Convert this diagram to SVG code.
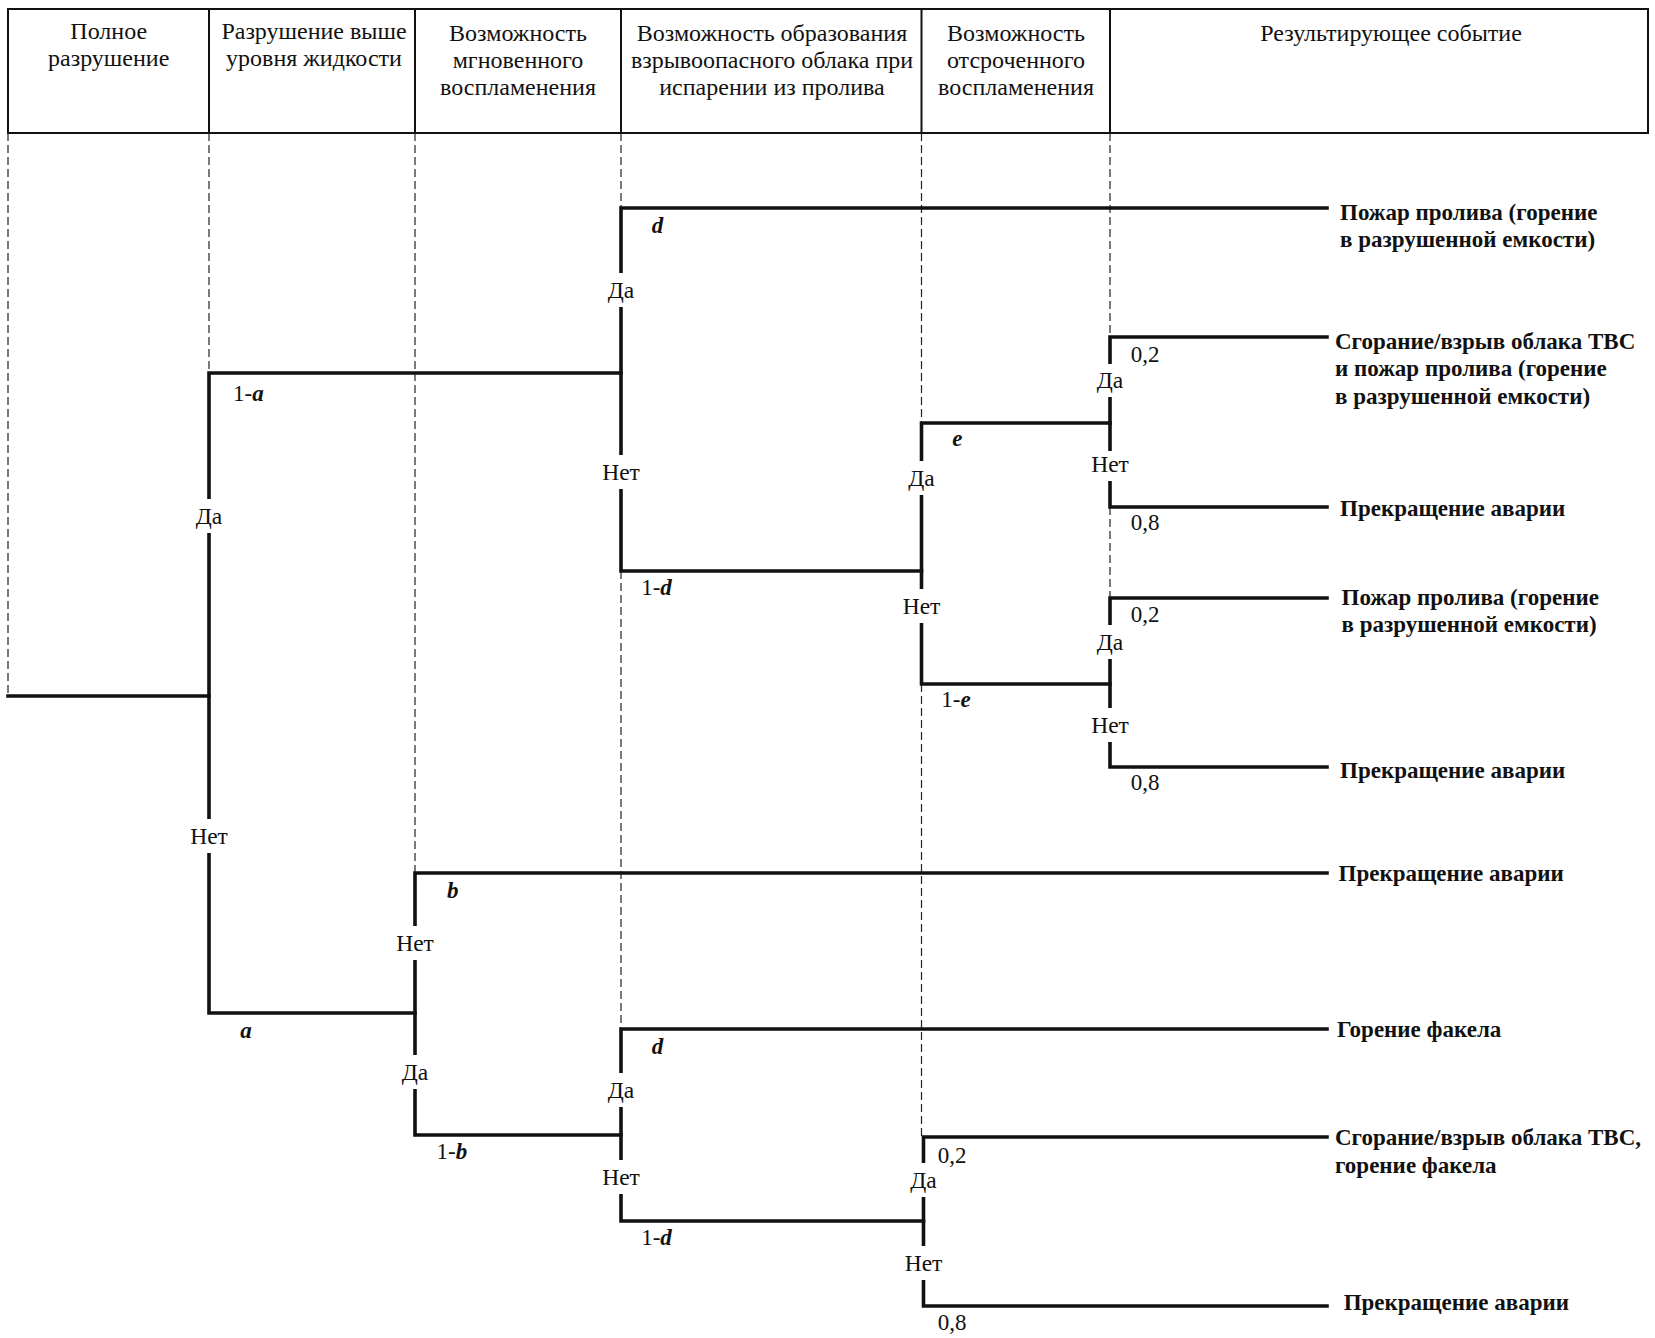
<svg xmlns="http://www.w3.org/2000/svg" width="1655" height="1338" viewBox="0 0 1655 1338">
<style>
text{font-family:"Liberation Serif","Times New Roman",serif;fill:#111}
.h{font-size:24px;text-anchor:middle}
.lab{font-size:23.5px;text-anchor:middle}
.p{font-size:23px}
.it{font-style:italic;font-weight:bold}
.out{font-size:23px;font-weight:bold}
.tree{fill:none;stroke:#111;stroke-width:3.6;stroke-linejoin:miter;stroke-linecap:square}
.dash{fill:none;stroke:#222;stroke-width:1.2;stroke-dasharray:8 4}
.frame{fill:none;stroke:#111;stroke-width:2}
.gap{fill:#fff}
</style>
<rect width="1655" height="1338" fill="#fff"/>

<g id="header">
<rect class="frame" x="8" y="9" width="1640" height="124"/>
<line class="frame" x1="209" y1="9" x2="209" y2="133"/>
<line class="frame" x1="415" y1="9" x2="415" y2="133"/>
<line class="frame" x1="621" y1="9" x2="621" y2="133"/>
<line class="frame" x1="921.5" y1="9" x2="921.5" y2="133"/>
<line class="frame" x1="1110" y1="9" x2="1110" y2="133"/>
<g id="col1"><text class="h" x="108.7" y="39">Полное</text><text class="h" x="108.7" y="66">разрушение</text></g>
<g id="col2"><text class="h" x="314" y="39">Разрушение выше</text><text class="h" x="314" y="66">уровня жидкости</text></g>
<g id="col3"><text class="h" x="518" y="41">Возможность</text><text class="h" x="518" y="68">мгновенного</text><text class="h" x="518" y="95">воспламенения</text></g>
<g id="col4"><text class="h" x="772" y="41">Возможность образования</text><text class="h" x="772" y="68">взрывоопасного облака при</text><text class="h" x="772" y="95">испарении из пролива</text></g>
<g id="col5"><text class="h" x="1016" y="41">Возможность</text><text class="h" x="1016" y="68">отсроченного</text><text class="h" x="1016" y="95">воспламенения</text></g>
<g id="col6"><text class="h" x="1391" y="41">Результирующее событие</text></g>
</g>

<g id="guides">
<line class="dash" x1="8" y1="133" x2="8" y2="696"/>
<line class="dash" x1="209" y1="133" x2="209" y2="373"/>
<line class="dash" x1="415" y1="133" x2="415" y2="873"/>
<line class="dash" x1="621" y1="133" x2="621" y2="208"/>
<line class="dash" x1="621" y1="571" x2="621" y2="1029"/>
<line class="dash" x1="921.5" y1="133" x2="921.5" y2="423"/>
<line class="dash" x1="921.5" y1="684" x2="921.5" y2="1137"/>
<line class="dash" x1="1110" y1="133" x2="1110" y2="337"/>
<line class="dash" x1="1110" y1="507" x2="1110" y2="598"/>
</g>

<g id="connectors">
<path class="tree" d="M8 696 H209"/>
<path class="tree" d="M621 373 H209 V1013 H415"/>
<path class="tree" d="M1327 208 H621 V571 H921.5"/>
<path class="tree" d="M1110 423 H921.5 V684 H1110"/>
<path class="tree" d="M1327 337 H1110 V507 H1327"/>
<path class="tree" d="M1327 598 H1110 V767 H1327"/>
<path class="tree" d="M1327 873 H415 V1135 H621"/>
<path class="tree" d="M1327 1029 H621 V1221 H923.5"/>
<path class="tree" d="M1327 1137 H923.5 V1306 H1327"/>
</g>

<g id="branch-labels">
<g id="n-a"><rect class="gap" x="190" y="499" width="38" height="34"/><text class="lab" x="209" y="524">Да</text>
<rect class="gap" x="185" y="819" width="48" height="34"/><text class="lab" x="209" y="844">Нет</text></g>
<g id="n-d1"><rect class="gap" x="602" y="273" width="38" height="34"/><text class="lab" x="621" y="298">Да</text>
<rect class="gap" x="597" y="455" width="48" height="34"/><text class="lab" x="621" y="480">Нет</text></g>
<g id="n-e"><rect class="gap" x="902" y="461" width="38" height="34"/><text class="lab" x="921.5" y="486">Да</text>
<rect class="gap" x="897" y="589" width="48" height="34"/><text class="lab" x="921.5" y="614">Нет</text></g>
<g id="n-f1"><rect class="gap" x="1091" y="364" width="38" height="33"/><text class="lab" x="1110" y="388">Да</text>
<rect class="gap" x="1086" y="451" width="48" height="30"/><text class="lab" x="1110" y="472">Нет</text></g>
<g id="n-f2"><rect class="gap" x="1091" y="625" width="38" height="34"/><text class="lab" x="1110" y="650">Да</text>
<rect class="gap" x="1086" y="708" width="48" height="34"/><text class="lab" x="1110" y="733">Нет</text></g>
<g id="n-b"><rect class="gap" x="391" y="926" width="48" height="34"/><text class="lab" x="415" y="951">Нет</text>
<rect class="gap" x="396" y="1055" width="38" height="34"/><text class="lab" x="415" y="1080">Да</text></g>
<g id="n-d2"><rect class="gap" x="602" y="1073" width="38" height="34"/><text class="lab" x="621" y="1098">Да</text>
<rect class="gap" x="597" y="1160" width="48" height="34"/><text class="lab" x="621" y="1185">Нет</text></g>
<g id="n-f3"><rect class="gap" x="904" y="1163" width="38" height="34"/><text class="lab" x="923.5" y="1188">Да</text>
<rect class="gap" x="899" y="1246" width="48" height="34"/><text class="lab" x="923.5" y="1271">Нет</text></g>
</g>

<g id="probabilities">
<text class="p" x="233" y="401">1-<tspan class="it">a</tspan></text>
<text class="p it" x="246" y="1038" text-anchor="middle">a</text>
<text class="p it" x="657.6" y="233" text-anchor="middle">d</text>
<text class="p" x="656.5" y="595" text-anchor="middle">1-<tspan class="it">d</tspan></text>
<text class="p it" x="957.4" y="446" text-anchor="middle">e</text>
<text class="p" x="956" y="707" text-anchor="middle">1-<tspan class="it">e</tspan></text>
<text class="p" x="1145" y="362" text-anchor="middle">0,2</text>
<text class="p" x="1145" y="530" text-anchor="middle">0,8</text>
<text class="p" x="1145" y="622" text-anchor="middle">0,2</text>
<text class="p" x="1145" y="790" text-anchor="middle">0,8</text>
<text class="p it" x="452.8" y="898" text-anchor="middle">b</text>
<text class="p" x="451.8" y="1159" text-anchor="middle">1-<tspan class="it">b</tspan></text>
<text class="p it" x="657.6" y="1054" text-anchor="middle">d</text>
<text class="p" x="656.5" y="1245" text-anchor="middle">1-<tspan class="it">d</tspan></text>
<text class="p" x="952" y="1163" text-anchor="middle">0,2</text>
<text class="p" x="952" y="1330" text-anchor="middle">0,8</text>
</g>

<g id="outcomes">
<g id="o1"><text class="out" x="1340" y="219.5">Пожар пролива (горение</text><text class="out" x="1340" y="247">в разрушенной емкости)</text></g>
<g id="o2"><text class="out" x="1335" y="348.5">Сгорание/взрыв облака ТВС</text><text class="out" x="1335" y="376">и пожар пролива (горение</text><text class="out" x="1335" y="403.5">в разрушенной емкости)</text></g>
<g id="o3"><text class="out" x="1340" y="516">Прекращение аварии</text></g>
<g id="o4"><text class="out" x="1341.5" y="605">Пожар пролива (горение</text><text class="out" x="1341.5" y="632">в разрушенной емкости)</text></g>
<g id="o5"><text class="out" x="1340" y="778">Прекращение аварии</text></g>
<g id="o6"><text class="out" x="1338.5" y="880.5">Прекращение аварии</text></g>
<g id="o7"><text class="out" x="1337" y="1036.5">Горение факела</text></g>
<g id="o8"><text class="out" x="1335" y="1145">Сгорание/взрыв облака ТВС,</text><text class="out" x="1335" y="1173">горение факела</text></g>
<g id="o9"><text class="out" x="1343.7" y="1310">Прекращение аварии</text></g>
</g>
</svg>
